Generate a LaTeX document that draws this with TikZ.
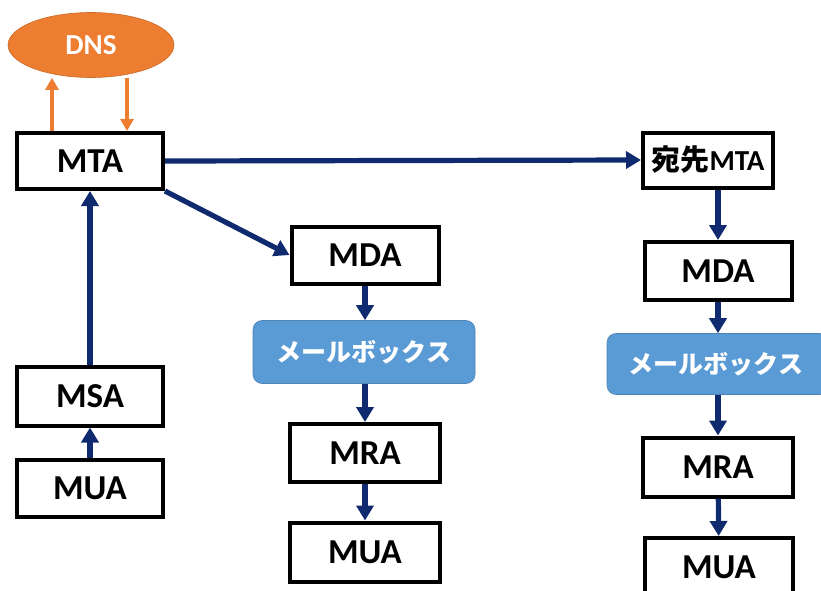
\documentclass[tikz,border=0pt]{standalone}
\usepackage{fontspec}
\setmainfont{Carlito}
\newfontfamily\jpfont{Noto Sans CJK JP}
\usetikzlibrary{arrows.meta,shapes.geometric}
\definecolor{navy}{HTML}{0F2A6E}
\definecolor{dnsorange}{HTML}{ED7D31}
\definecolor{mbblue}{HTML}{5B9BD5}
\begin{document}
\begin{tikzpicture}[x=1pt,y=-1pt,
  box/.style={draw=black,line width=4pt,fill=white,inner sep=0pt,font=\bfseries\fontsize{35}{35}\selectfont},
  mbox/.style={fill=mbblue,draw=mbblue!85!black,line width=0.6pt,rounded corners=9pt,inner sep=0pt,text=white,font=\jpfont\bfseries\fontsize{25}{25}\selectfont},
  flow/.style={draw=navy,line width=5.2pt,-{Triangle[length=15pt,width=17pt]}},
  dnsflow/.style={draw=dnsorange,line width=4.2pt,-{Triangle[length=12pt,width=13pt]}}]
\useasboundingbox (0,0) rectangle (821,590);
% nodes
\node[ellipse,fill=dnsorange,draw=dnsorange!85!black,line width=0.6pt,minimum width=166pt,minimum height=65pt,inner sep=0pt,text=white,font=\bfseries\fontsize{29}{29}\selectfont] (dns) at (91,45) {DNS};
\node[box,minimum width=146pt,minimum height=56pt] (mta) at (90,161) {MTA};
\node[box,minimum width=146pt,minimum height=59pt] (msa) at (90,396) {MSA};
\node[box,minimum width=146pt,minimum height=57pt] (mua1) at (90,488) {MUA};
\node[box,minimum width=147pt,minimum height=57pt] (mda1) at (365,255) {MDA};
\node[mbox,minimum width=222pt,minimum height=63pt] (mb1) at (364,352) {メールボックス};
\node[box,minimum width=150pt,minimum height=58pt] (mra1) at (365,453) {MRA};
\node[box,minimum width=150pt,minimum height=59pt] (mua2) at (365,552) {MUA};
\node[box,minimum width=130pt,minimum height=55pt,font=\bfseries\fontsize{29}{29}\selectfont] (dmta) at (708,160) {{\jpfont\bfseries 宛先}MTA};
\node[box,minimum width=147pt,minimum height=58pt] (mda2) at (718,271) {MDA};
\node[mbox,minimum width=222pt,minimum height=61pt] (mb2) at (718,364) {\hspace*{-4pt}メールボックス};
\node[box,minimum width=150pt,minimum height=59pt] (mra2) at (718,467) {MRA};
\node[box,minimum width=148pt,minimum height=58pt] (mua3) at (719,567) {MUA};
% connectors
\draw[dnsflow] ([xshift=-38pt]mta.north) -- ([xshift=-38pt]mta.north |- dns.south);
\draw[dnsflow] ([xshift=37pt]mta.north |- dns.south) -- ([xshift=37pt]mta.north);
\draw[flow] (mua1) -- (msa);
\draw[flow] (msa) -- (mta);
\draw[flow] (mta.east) -- (dmta.west);
\draw[flow] (mta.south east) -- (mda1.west);
\draw[flow] (mda1) -- (mda1 |- mb1.north);
\draw[flow] (mda1 |- mb1.south) -- (mra1);
\draw[flow] (mra1) -- (mua2);
\draw[flow] (mda2 |- dmta.south) -- (mda2);
\draw[flow] (mda2) -- (mda2 |- mb2.north);
\draw[flow] (mda2 |- mb2.south) -- (mra2);
\draw[flow] (mra2) -- (mua3);
\end{tikzpicture}
\end{document}
